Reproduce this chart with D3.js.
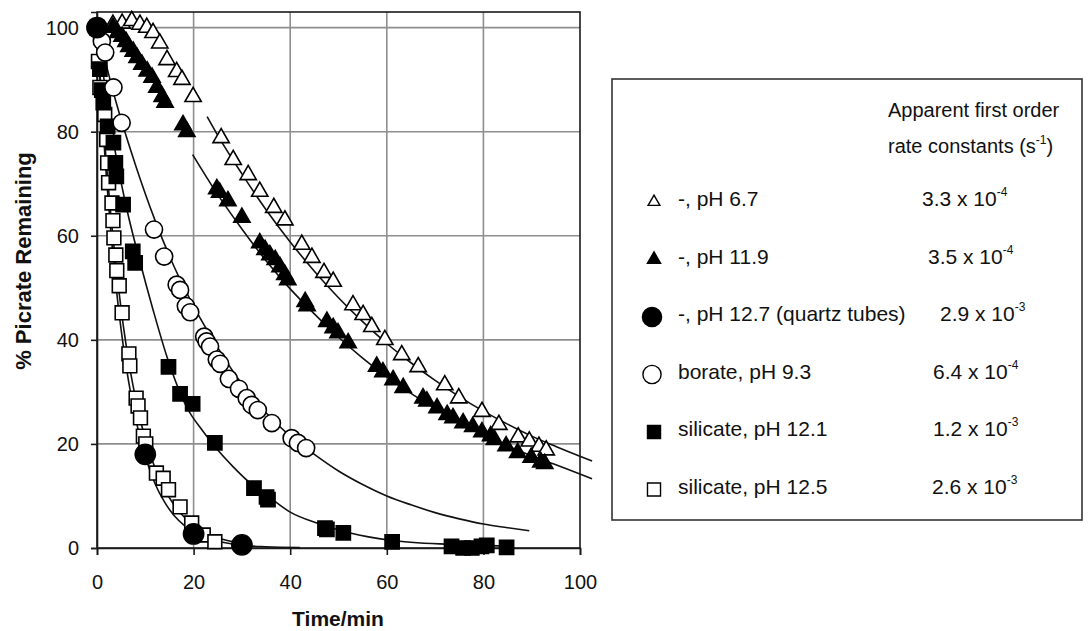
<!DOCTYPE html>
<html>
<head>
<meta charset="utf-8">
<script src="https://cdn.jsdelivr.net/npm/d3@7"></script>
<style>
  body { margin: 0; background: #fff; }
  text { font-family: "Liberation Sans", Arial, Helvetica, sans-serif; fill: #111; }
</style>
</head>
<body>
<div id="chart"></div>
<script>
// Data: [time/min, % picrate remaining]
const openTriangles = [
  [3.3, 100.6], [5.2, 100.8], [7.2, 101.3], [8.9, 100.6], [10.3, 100], [11.6, 99], [13, 97],
  [14.5, 93.8], [16.5, 91.5], [17.6, 90], [19.9, 86.7], [25.7, 78.8], [28.2, 74.6], [31.3, 71.7],
  [33.7, 68.5], [36.6, 65.4], [38.9, 63], [42.4, 58.3], [44.5, 55.8], [47, 52.9], [48.9, 51.2],
  [53, 46.7], [55.1, 44.8], [56.9, 42.5], [59.6, 40], [63.1, 37.1], [66.5, 34.8], [72, 31.3],
  [74.9, 28.8], [79.7, 26.2], [83.2, 23.7], [87.2, 21.3], [89.5, 20.5], [91.5, 19.5], [93, 18.8]
];
const filledTriangles = [
  [3.3, 100], [4.3, 99], [5.2, 98.3], [6, 97.3], [6.6, 96.3], [7.5, 95.4], [8.3, 94.2], [9.3, 92.9],
  [10.4, 91.6], [11.4, 90.4], [12.4, 88.5], [13.5, 86.7], [14.1, 85.6], [17.8, 81.3], [18.6, 80],
  [24.8, 69], [25.4, 68.3], [27.1, 66.7], [30, 63.5], [33.7, 58.6], [34.8, 57.3], [35.8, 56.3],
  [36.9, 55.4], [37.9, 54], [38.9, 52.5], [39.5, 51.5], [43.1, 47.3], [43.5, 46.5], [47.6, 43.5],
  [48.9, 42.3], [49.9, 41.3], [52, 39.4], [57.9, 34.9], [59.2, 33.8], [61.3, 32.3], [63.4, 30.8],
  [67.5, 28.8], [68.3, 28.2], [70.4, 26.9], [72.5, 25.6], [73.7, 25], [75.8, 24], [77.8, 23.3],
  [79.7, 22.3], [81.5, 21.5], [82.3, 20.8], [84.7, 19.6], [87.1, 18.3], [89.9, 17.4], [91.9, 16.5],
  [92.7, 16.2]
];
const filledCircles = [[0, 100], [10, 18], [20, 2.7], [30, 0.6]];
const openCircles = [
  [0, 100], [1, 97.4], [1.7, 95.2], [3.4, 88.5], [5.1, 81.7], [11.8, 61.2], [13.9, 56], [16.5, 50.6],
  [17.2, 49.6], [18.4, 46.5], [19.3, 45.3], [22.2, 40.6], [22.7, 39.7], [23.4, 38.7], [24.8, 36.2],
  [25.5, 35.4], [27.3, 32.5], [29.4, 30.6], [31, 28.8], [32, 27.5], [33.3, 26.5], [36.2, 24],
  [40.3, 21.1], [41.6, 20.2], [43.3, 19.2]
];
const filledSquares = [
  [0, 100], [0.6, 92], [1, 88], [1.3, 85.6], [2.2, 81], [3.4, 77.9], [3.8, 74], [4, 71.4],
  [5.4, 66], [7.4, 57], [7.9, 54.8], [14.8, 34.8], [17.2, 29.6], [19.8, 27.7], [24.4, 20.2],
  [32.5, 11.5], [35.1, 9.8], [35.4, 9.3], [47.2, 3.8], [47.6, 3.6], [51, 2.9], [61.1, 1.2],
  [73.4, 0.3], [75.8, 0], [77.6, 0], [79.6, 0.3], [80.7, 0.5], [84.8, 0.1]
];
const openSquares = [
  [0, 100], [0.3, 93.5], [0.6, 88.5], [1.6, 83.3], [2, 78.5], [2.2, 74], [2.4, 70.2], [3.1, 66.3],
  [3.3, 62.9], [3.5, 59.6], [3.9, 56.3], [4.1, 53.3], [4.6, 50.4], [5.2, 45.2], [6.6, 37.3],
  [6.8, 35], [8.1, 28.8], [8.5, 27.3], [9, 25], [9.6, 21.5], [10.1, 20], [12.3, 14.4], [13.7, 13.4],
  [14.8, 11.2], [17.2, 7.9], [19.6, 4.8], [22, 2.5], [24.4, 1.2]
];

// fitted first order curves
const fit67 = [[22.8, 82.9], [25, 79.3], [30, 71.9], [35, 65], [40, 58.8], [45, 53.2], [50, 48.1], [55, 43.5],
  [60, 39.3], [65, 35.6], [70, 32.2], [75, 29.1], [80, 26.3], [85, 23.8], [90, 21.5], [95, 19.5], [102.5, 16.7]];
const fit119 = [[19.8, 75.6], [25, 67.9], [30, 61.3], [35, 55.2], [40, 49.8], [45, 45], [50, 40.5], [55, 36.5],
  [60, 32.9], [65, 29.7], [70, 26.8], [75, 24.1], [80, 21.8], [85, 19.6], [90, 17.7], [95, 16], [102.5, 13.3]];
const fit127 = [[0, 100], [1, 84], [2, 70.6], [3, 59.3], [4, 49.8], [5, 41.9], [6, 35.2], [7, 29.6], [8, 24.9],
  [9, 20.9], [10, 17.6], [12, 12.4], [14, 8.8], [16, 6.2], [18, 4.4], [20, 3.1], [23, 1.8], [26, 1.1],
  [30, 0.5], [35, 0.25], [42, 0.1]];
const fit93 = [[0, 100], [4, 85.5], [8, 73.5], [12, 63], [16, 54], [20, 46.5], [25, 38.5], [30, 31.5], [35, 26],
  [40, 21.5], [45, 18], [50, 14.8], [55, 12.2], [60, 10], [65, 8.3], [70, 6.8], [75, 5.6], [80, 4.6],
  [85, 3.9], [89.5, 3.3]];
const fit121 = [[0, 100], [2, 86.5], [4, 75], [6.2, 65], [8.9, 55], [11.6, 45.8], [14.5, 36.7], [18.6, 27],
  [21.9, 22.5], [24.4, 19.5], [28.2, 15.6], [31.7, 12.5], [35.1, 10.2], [40, 6.9], [45.5, 4.8], [52.4, 2.9],
  [60.7, 1.5], [73.1, 0.7], [85, 0.4]];
const fit125 = [[0, 100], [1, 85.6], [2, 73.2], [3, 62.6], [4, 53.6], [5, 45.8], [6, 39.2], [7, 33.5], [8, 28.7],
  [9, 24.5], [10, 21], [12, 15.4], [14, 11.3], [16, 8.2], [18, 6], [20, 4.4], [23, 2.8], [26, 1.7], [30, 0.9]];

const xTicks = [0, 20, 40, 60, 80, 100];
const yTicks = [0, 20, 40, 60, 80, 100];

const legendLabels = ["-, pH 6.7", "-, pH 11.9", "-, pH 12.7 (quartz tubes)", "borate, pH 9.3", "silicate, pH 12.1", "silicate, pH 12.5"];
const rateMantissa = ["3.3", "3.5", "2.9", "6.4", "1.2", "2.6"];
const rateExponent = ["-4", "-4", "-3", "-4", "-3", "-3"];

// layout
const W = 1089, H = 631;
const svg = d3.select("#chart").append("svg").attr("width", W).attr("height", H);

const x = d3.scaleLinear().domain([0, 100]).range([97, 580]);
const y = d3.scaleLinear().domain([0, 103]).range([548, 12]);

// grid
const grid = svg.append("g").attr("stroke", "#8e8e8e").attr("stroke-width", 1.6);
grid.selectAll(".gx").data([20, 40, 60, 80]).enter().append("line")
  .attr("x1", d => x(d)).attr("x2", d => x(d)).attr("y1", y(103)).attr("y2", y(0));
grid.selectAll(".gy").data([20, 40, 60, 80, 100]).enter().append("line")
  .attr("x1", x(0)).attr("x2", x(100)).attr("y1", d => y(d)).attr("y2", d => y(d));

// frame
svg.append("rect")
  .attr("x", x(0)).attr("y", y(103)).attr("width", x(100) - x(0)).attr("height", y(0) - y(103))
  .attr("fill", "none").attr("stroke", "#1a1a1a").attr("stroke-width", 1.6);

// axes
const xAxis = svg.append("g").attr("transform", "translate(0," + y(0) + ")")
  .call(d3.axisBottom(x).tickValues(xTicks).tickSize(7).tickPadding(20).tickFormat(d3.format("d")));
const yAxis = svg.append("g").attr("transform", "translate(" + x(0) + ",0)")
  .call(d3.axisLeft(y).tickValues(yTicks).tickSize(6).tickPadding(12).tickFormat(d3.format("d")));
[xAxis, yAxis].forEach(a => {
  a.select(".domain").attr("stroke", "#1a1a1a").attr("stroke-width", 1.6);
  a.selectAll(".tick line").attr("stroke", "#1a1a1a").attr("stroke-width", 1.6);
  a.selectAll(".tick text").attr("font-size", 20).attr("fill", "#111")
    .attr("font-family", "Liberation Sans, Arial, sans-serif");
});

// axis titles
svg.append("text")
  .attr("transform", "translate(31,261) rotate(-90)")
  .attr("text-anchor", "middle").attr("font-size", 22).attr("font-weight", "bold")
  .text("% Picrate Remaining");
svg.append("text")
  .attr("x", 338).attr("y", 626).attr("text-anchor", "middle")
  .attr("font-size", 21).attr("font-weight", "bold")
  .text("Time/min");

// fitted lines
const line = d3.line().x(d => x(d[0])).y(d => y(d[1])).curve(d3.curveMonotoneX);
[fit67, fit119, fit127, fit93, fit121, fit125].forEach(f => {
  svg.append("path").datum(f).attr("d", line)
    .attr("fill", "none").attr("stroke", "#111").attr("stroke-width", 1.6);
});

// markers
const series = [
  { data: openTriangles, type: d3.symbolTriangle, size: 115, fill: "#fff" },
  { data: filledTriangles, type: d3.symbolTriangle, size: 115, fill: "#000" },
  { data: openSquares, type: d3.symbolSquare, size: 190, fill: "#fff" },
  { data: filledSquares, type: d3.symbolSquare, size: 200, fill: "#000" },
  { data: openCircles, type: d3.symbolCircle, size: 230, fill: "#fff" },
  { data: filledCircles, type: d3.symbolCircle, size: 320, fill: "#000" }
];
series.forEach(s => {
  svg.append("g").selectAll("path").data(s.data).enter().append("path")
    .attr("d", d3.symbol().type(s.type).size(s.size))
    .attr("transform", d => "translate(" + x(d[0]) + "," + y(d[1]) + ")")
    .attr("fill", s.fill).attr("stroke", "#000").attr("stroke-width", 1.6);
});

// legend
const legend = svg.append("g");
legend.append("rect").attr("x", 612).attr("y", 79).attr("width", 470).attr("height", 441)
  .attr("fill", "#fff").attr("stroke", "#333").attr("stroke-width", 1.6);

legend.append("text").attr("x", 888).attr("y", 117).attr("font-size", 20).text("Apparent first order");
const hdr = legend.append("text").attr("x", 888).attr("y", 153).attr("font-size", 20);
hdr.append("tspan").text("rate constants (s");
hdr.append("tspan").attr("font-size", 12).attr("dy", -9).text("-1");
hdr.append("tspan").attr("dy", 9).text(")");

const legSymbols = [
  { type: d3.symbolTriangle, size: 60, fill: "#fff" },
  { type: d3.symbolTriangle, size: 75, fill: "#000" },
  { type: d3.symbolCircle, size: 290, fill: "#000" },
  { type: d3.symbolCircle, size: 260, fill: "#fff" },
  { type: d3.symbolSquare, size: 170, fill: "#000" },
  { type: d3.symbolSquare, size: 170, fill: "#fff" }
];
const rateX = [922, 928, 940, 933, 933, 932];
legendLabels.forEach((lab, i) => {
  const cy = 199 + i * 57.5;
  legend.append("path")
    .attr("d", d3.symbol().type(legSymbols[i].type).size(legSymbols[i].size))
    .attr("transform", "translate(" + (i === 2 || i === 3 ? 652 : 654) + "," + (cy + 3) + ")")
    .attr("fill", legSymbols[i].fill).attr("stroke", "#000").attr("stroke-width", 1.4);
  legend.append("text").attr("x", 678).attr("y", cy + 7).attr("font-size", 21).text(lab);
  const r = legend.append("text").attr("x", rateX[i]).attr("y", cy + 7).attr("font-size", 21);
  r.append("tspan").text(rateMantissa[i] + " x 10");
  r.append("tspan").attr("font-size", 12).attr("dy", -10).text(rateExponent[i]);
});
</script>
</body>
</html>
